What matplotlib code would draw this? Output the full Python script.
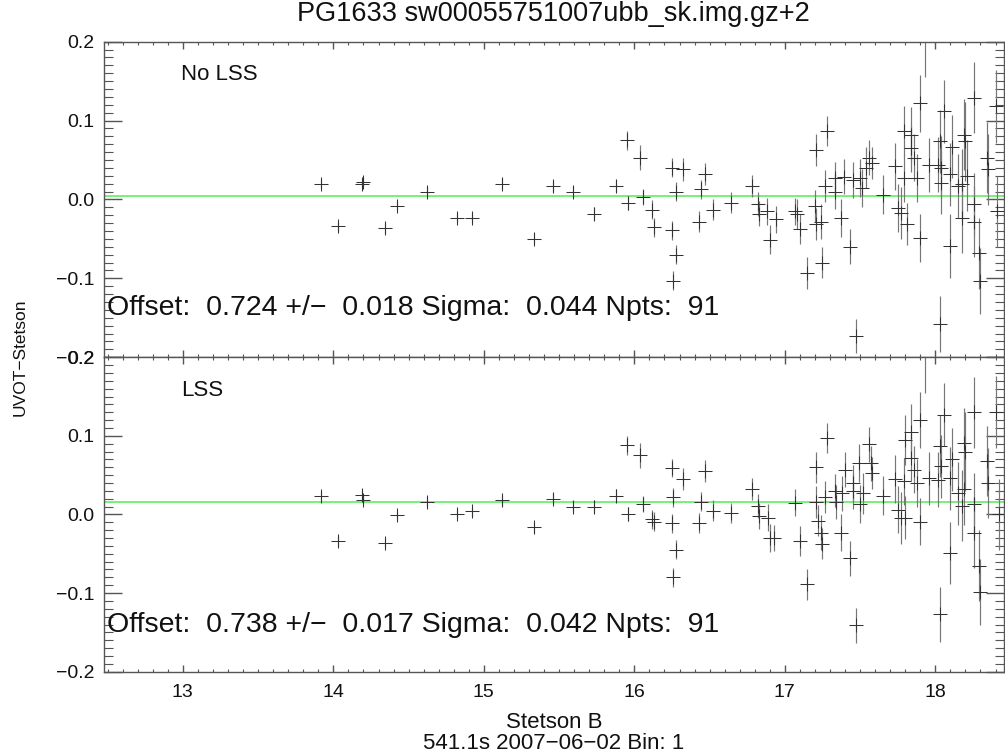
import matplotlib
matplotlib.use('Agg')
import matplotlib.pyplot as plt
from matplotlib.ticker import MultipleLocator, FixedLocator, FixedFormatter

plt.rcParams['font.family'] = ['Liberation Sans', 'DejaVu Sans']

title = "PG1633 sw00055751007ubb_sk.img.gz+2"
ylabel = "UVOT\u2212Stetson"
xlabel = "Stetson B\n541.1s 2007\u221206\u221202 Bin: 1"
panel_labels = ["No LSS", "LSS"]
stats_text = [
    "Offset:  0.724 +/\u2212  0.018 Sigma:  0.044 Npts:  91",
    "Offset:  0.738 +/\u2212  0.017 Sigma:  0.042 Npts:  91",
]
fit_line = [0.004, 0.016]
x_ticks = [13, 14, 15, 16, 17, 18]
y_ticks = [-0.2, -0.1, 0.0, 0.1, 0.2]
y_ticklabels = ["\u22120.2", "\u22120.1", "0.0", "0.1", "0.2"]

# ---- No LSS panel ----
x_nolss = [13.92, 14.03, 14.19, 14.20, 14.34, 14.42, 14.62, 14.82, 14.92, 15.12,
           15.33, 15.46, 15.59, 15.73, 15.88, 15.95, 15.96, 16.04, 16.06, 16.12,
           16.13, 16.25, 16.25, 16.28, 16.28, 16.26, 16.32, 16.43, 16.44, 16.47,
           16.52, 16.64, 16.78, 16.82, 16.83, 16.88, 16.90, 16.94, 17.07, 17.08,
           17.10, 17.15, 17.21, 17.20, 17.21, 17.24, 17.25, 17.27, 17.28, 17.33,
           17.33, 17.37, 17.39, 17.43, 17.45, 17.47, 17.50, 17.51, 17.54, 17.56,
           17.58, 17.65, 17.73, 17.75, 17.77, 17.81, 17.79, 17.79, 17.84, 17.84,
           17.86, 17.88, 17.90, 17.90, 17.93, 17.96, 18.02, 18.03, 18.03, 18.04,
           18.04, 18.06, 18.10, 18.11, 18.10, 18.15, 18.18, 18.19, 18.20, 18.21,
           18.18, 18.26, 18.26, 18.26, 18.29, 18.30, 18.34, 18.35, 18.40, 18.41]
y_nolss = [0.020, -0.034, 0.020, 0.022, -0.036, -0.008, 0.010, -0.023, -0.023, 0.020,
           -0.050, 0.017, 0.010, -0.018, 0.017, 0.075, -0.004, 0.053, 0.003, -0.013,
           -0.035, 0.040, -0.039, 0.010, -0.070, -0.103, 0.038, -0.028, 0.013, 0.032,
           -0.013, -0.004, 0.017, -0.006, -0.018, -0.015, -0.051, -0.025, -0.015, -0.019,
           -0.038, -0.093, 0.063, -0.008, -0.031, -0.028, -0.080, 0.017, 0.087, 0.027,
           0.010, -0.023, 0.029, -0.060, 0.025, -0.173, 0.027, 0.015, 0.040, 0.053,
           0.046, 0.006, 0.042, -0.011, -0.017, -0.031, 0.087, 0.027, 0.082, 0.065,
           0.053, 0.027, 0.122, -0.049, 0.215, 0.044, 0.044, 0.074, -0.158, 0.040,
           0.021, 0.112, -0.059, 0.067, 0.032, 0.017, 0.019, 0.082, 0.074, 0.030,
           -0.023, 0.129, -0.006, -0.028, -0.068, -0.103, 0.053, 0.038, 0.118, -0.015]
e_nolss = [0.006, 0.006, 0.006, 0.006, 0.006, 0.006, 0.006, 0.006, 0.006, 0.007,
           0.007, 0.007, 0.007, 0.008, 0.008, 0.012, 0.009, 0.016, 0.010, 0.012,
           0.012, 0.012, 0.012, 0.012, 0.012, 0.012, 0.014, 0.013, 0.012, 0.014,
           0.013, 0.013, 0.014, 0.015, 0.016, 0.017, 0.018, 0.017, 0.017, 0.019,
           0.019, 0.020, 0.020, 0.020, 0.020, 0.022, 0.020, 0.020, 0.019, 0.021,
           0.022, 0.024, 0.022, 0.022, 0.023, 0.022, 0.024, 0.024, 0.026, 0.022,
           0.020, 0.025, 0.030, 0.030, 0.033, 0.027, 0.032, 0.030, 0.035, 0.030,
           0.030, 0.030, 0.036, 0.030, 0.060, 0.034, 0.035, 0.040, 0.035, 0.040,
           0.040, 0.040, 0.040, 0.040, 0.040, 0.040, 0.045, 0.045, 0.050, 0.045,
           0.045, 0.045, 0.040, 0.045, 0.045, 0.042, 0.045, 0.045, 0.046, 0.045]

# ---- LSS panel ----
x_lss = [13.92, 14.03, 14.19, 14.20, 14.34, 14.42, 14.62, 14.82, 14.92, 15.12,
         15.33, 15.46, 15.59, 15.73, 15.88, 15.95, 15.96, 16.04, 16.06, 16.12,
         16.13, 16.25, 16.26, 16.25, 16.28, 16.26, 16.32, 16.43, 16.44, 16.47,
         16.52, 16.64, 16.78, 16.82, 16.83, 16.89, 16.90, 16.93, 17.07, 17.10,
         17.15, 17.21, 17.21, 17.22, 17.25, 17.24, 17.27, 17.28, 17.33, 17.34,
         17.37, 17.38, 17.40, 17.43, 17.45, 17.45, 17.47, 17.49, 17.50, 17.52,
         17.56, 17.57, 17.58, 17.65, 17.73, 17.75, 17.77, 17.80, 17.80, 17.79,
         17.84, 17.84, 17.86, 17.88, 17.90, 17.90, 17.93, 17.96, 18.02, 18.03,
         18.03, 18.04, 18.06, 18.10, 18.11, 18.10, 18.15, 18.19, 18.20, 18.19,
         18.18, 18.26, 18.26, 18.26, 18.29, 18.30, 18.34, 18.35, 18.40, 18.42]
y_lss = [0.024, -0.034, 0.025, 0.019, -0.036, -0.001, 0.016, 0.001, 0.004, 0.018,
         -0.016, 0.020, 0.010, 0.010, 0.024, 0.088, 0.001, 0.075, 0.013, -0.006,
         -0.009, 0.059, 0.022, -0.011, -0.045, -0.080, 0.045, -0.011, 0.016, 0.055,
         0.005, 0.002, 0.032, 0.011, -0.002, -0.004, -0.030, -0.030, 0.015, -0.034,
         -0.089, 0.060, 0.016, -0.008, -0.037, -0.023, 0.022, 0.097, 0.030, 0.016,
         -0.023, 0.027, 0.057, -0.056, 0.040, 0.030, -0.141, 0.065, 0.013, 0.027,
         0.089, 0.065, 0.053, 0.024, 0.045, 0.006, -0.004, -0.004, 0.095, 0.042,
         0.105, 0.072, 0.057, 0.040, 0.120, -0.009, 0.215, 0.046, 0.044, 0.087,
         -0.127, 0.061, 0.127, -0.049, 0.070, 0.046, 0.027, 0.091, 0.080, 0.032,
         0.011, 0.130, 0.013, -0.023, -0.065, -0.099, 0.068, 0.040, 0.130, 0.000]
e_lss = [0.006, 0.006, 0.006, 0.006, 0.006, 0.006, 0.006, 0.006, 0.006, 0.007,
         0.007, 0.007, 0.007, 0.008, 0.008, 0.012, 0.009, 0.016, 0.010, 0.012,
         0.012, 0.012, 0.012, 0.012, 0.012, 0.012, 0.014, 0.013, 0.012, 0.014,
         0.013, 0.013, 0.014, 0.015, 0.016, 0.017, 0.018, 0.017, 0.017, 0.019,
         0.020, 0.020, 0.020, 0.020, 0.020, 0.022, 0.020, 0.019, 0.021, 0.022,
         0.024, 0.022, 0.022, 0.022, 0.023, 0.023, 0.022, 0.024, 0.024, 0.026,
         0.022, 0.022, 0.020, 0.025, 0.030, 0.030, 0.033, 0.027, 0.032, 0.030,
         0.035, 0.030, 0.030, 0.030, 0.036, 0.030, 0.060, 0.034, 0.035, 0.040,
         0.035, 0.040, 0.040, 0.040, 0.040, 0.040, 0.040, 0.045, 0.050, 0.045,
         0.045, 0.045, 0.040, 0.045, 0.045, 0.042, 0.045, 0.045, 0.046, 0.045]

xlim = (12.476, 18.456)
ylim = (-0.2, 0.2)

fig = plt.figure(figsize=(10.05, 7.54), dpi=100)
ax1 = fig.add_axes([0.10348, 0.52626, 0.8955, 0.41843])
ax2 = fig.add_axes([0.10348, 0.10915, 0.8955, 0.41711])

axis_col = '#555555'
data = [(x_nolss, y_nolss, e_nolss), (x_lss, y_lss, e_lss)]
stat_y = [-0.137, -0.140]
for i, ax in enumerate([ax1, ax2]):
    xs, ys, es = data[i]
    ax.errorbar(xs, ys, yerr=es, fmt='+', ms=9.5, mew=0.75, color='#333333',
                ecolor='#777777', elinewidth=0.85, capsize=0)
    ax.axhline(fit_line[i], color='#6cf06c', lw=1.3, zorder=1)
    ax.set_xlim(*xlim)
    ax.set_ylim(*ylim)
    ax.xaxis.set_major_locator(FixedLocator(x_ticks))
    ax.xaxis.set_minor_locator(MultipleLocator(0.1))
    ax.yaxis.set_major_locator(FixedLocator(y_ticks))
    ax.yaxis.set_major_formatter(FixedFormatter(y_ticklabels))
    ax.yaxis.set_minor_locator(MultipleLocator(0.01))
    ax.tick_params(which='both', direction='in', top=True, right=True,
                   color=axis_col, labelsize=14, labelcolor='#111111')
    ax.tick_params(axis='y', which='major', length=13, width=1, pad=7)
    ax.tick_params(axis='y', which='minor', length=6.5, width=0.8)
    ax.tick_params(axis='x', which='major', length=5, width=1, pad=9)
    ax.tick_params(axis='x', which='minor', length=2.5, width=0.8)
    for sp in ax.spines.values():
        sp.set_color(axis_col)
        sp.set_linewidth(1.0)
    ax.text(12.99, 0.158, panel_labels[i], fontsize=16, va='center', ha='left',
            color='#111111')
    ax.text(12.496, stat_y[i], stats_text[i], fontsize=20.5, va='center', ha='left',
            color='#111111')

ax1.tick_params(axis='x', labelbottom=False)
ax2.set_xlabel(xlabel, fontsize=16, linespacing=0.95, labelpad=8, color='#111111')

fig.text(0.551, 1 - 14 / 754, title, ha='center', va='center', fontsize=19.5,
         color='#111111')
fig.text(20 / 1005, 1 - 357 / 754, ylabel, rotation=90, ha='center', va='center',
         fontsize=12.5, color='#111111')

fig.savefig('out.png', dpi=100)
